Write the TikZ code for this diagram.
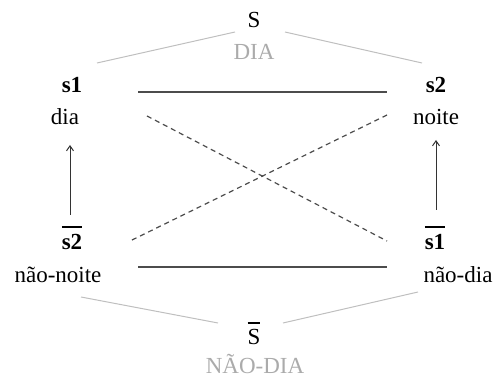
\documentclass[tikz,border=0pt]{standalone}
\usepackage{fontspec}
\setmainfont{Liberation Serif}
\usetikzlibrary{arrows.meta}
\newcommand{\ovlbar}[2]{\setbox0\hbox{#2}\vbox{\hrule height 1.4pt width \wd0\kern #1\box0}}
\begin{document}
\begin{tikzpicture}[x=1pt,y=-1pt,
  txt/.style={inner sep=0pt,anchor=base,font=\fontsize{23}{27}\selectfont},
  bld/.style={txt,font=\fontsize{23}{27}\selectfont\bfseries},
  grytxt/.style={txt,text=black!33},
  grayline/.style={draw=black!25,line width=1pt},
  solidline/.style={draw=black!70,line width=1.4pt},
  dashline/.style={draw=black!70,line width=1.2pt,dash pattern=on 5pt off 4pt},
  uparrow/.style={draw=black!80,line width=1pt,-{Straight Barb[length=5pt,width=7pt]}}]
\useasboundingbox (0,0) rectangle (496,379);
% top
\node[txt] (S) at (254,28) {S};
\node[grytxt] (DIA) at (254,60) {DIA};
\node[bld] (s1) at (72,93) {s1};
\node[txt] (dia) at (65,125) {dia};
\node[bld] (s2) at (436,93) {s2};
\node[txt] (noite) at (436,125) {noite};
% bottom
\node[bld] (s2b) at (72,250) {\ovlbar{7pt}{s2}};
\node[txt] (naonoite) at (58,283) {não-noite};
\node[bld] (s1b) at (435,250) {\ovlbar{7pt}{s1}};
\node[txt] (naodia) at (458,283) {não-dia};
\node[txt] (Sb) at (254,345) {\ovlbar{6pt}{S}};
\node[grytxt] (NAODIA) at (255,374) {NÃO-DIA};
% connector ends
\coordinate (gl1) at (97,63);  \coordinate (gl2) at (235,32);
\coordinate (gr1) at (285,32); \coordinate (gr2) at (422,63);
\coordinate (bl1) at (81,297); \coordinate (bl2) at (218,323);
\coordinate (br1) at (283,323);\coordinate (br2) at (418,292);
\coordinate (t1) at (138,92);  \coordinate (t2) at (387,92);
\coordinate (b1) at (138,267); \coordinate (b2) at (387,267);
\coordinate (d1a) at (147,116); \coordinate (d1b) at (387,241);
\coordinate (d2a) at (387,115); \coordinate (d2b) at (130,241);
\coordinate (al1) at (70,215); \coordinate (al2) at (70,145);
\coordinate (ar1) at (436,210); \coordinate (ar2) at (436,140);
% lines
\draw[grayline] (gl1) -- (gl2);
\draw[grayline] (gr1) -- (gr2);
\draw[grayline] (bl1) -- (bl2);
\draw[grayline] (br1) -- (br2);
\draw[solidline] (t1) -- (t2);
\draw[solidline] (b1) -- (b2);
\draw[dashline] (d1a) -- (d1b);
\draw[dashline] (d2a) -- (d2b);
\draw[uparrow] (al1) -- (al2);
\draw[uparrow] (ar1) -- (ar2);
\end{tikzpicture}
\end{document}
